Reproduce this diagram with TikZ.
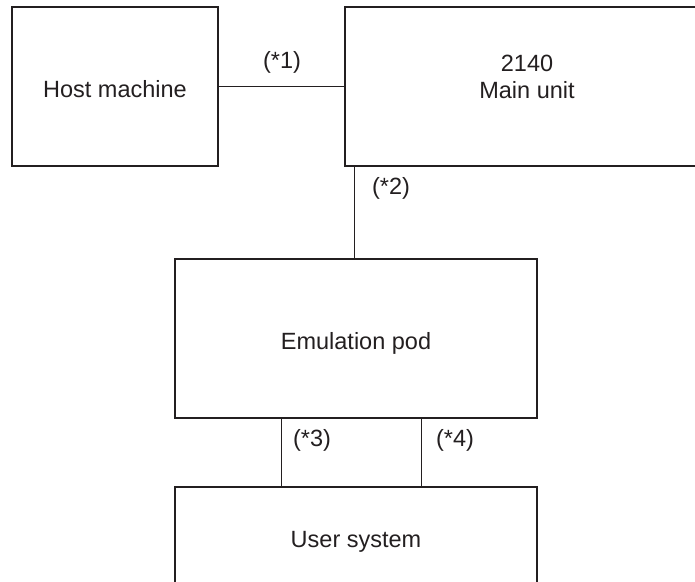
\documentclass[tikz,border=0pt]{standalone}
\usepackage{fontspec}
\setmainfont{Liberation Sans}
\definecolor{ink}{HTML}{231F20}
\begin{document}
\begin{tikzpicture}[x=1pt,y=-1pt,
  block/.style={draw=ink,line width=2.3pt,inner sep=0pt,text=ink,align=center,
    text height=26pt,text depth=5pt,font=\fontsize{23.5}{27}\selectfont},
  caption/.style={text=ink,inner sep=0pt,align=center,font=\fontsize{23.5}{27}\selectfont},
  wire/.style={draw=ink,line width=1.1pt},
  tag/.style={text=ink,inner sep=0pt,font=\fontsize{23.5}{27}\selectfont}]
\useasboundingbox (0,0) rectangle (695,581);
\clip (0,0) rectangle (695,581);
% units
\node[block,minimum width=206pt,minimum height=159pt] (host) at (115,86.5) {Host machine};
\node[block,minimum width=364pt,minimum height=159pt] (main) at (527,86.5) {};
\node[caption] (mainlbl) at ([yshift=10pt]main.center) {2140\\Main unit};
\node[block,minimum width=362pt,minimum height=159pt] (pod) at (356,338.5) {Emulation pod};
\node[block,minimum width=362pt,minimum height=100pt] (user) at (356,537) {User system};
% links
\draw[wire] (host.east) -- (main.west);
\draw[wire] ([xshift=11pt]main.south west) -- ([xshift=11pt]main.south west |- pod.north);
\draw[wire] ([xshift=108pt]pod.south west) -- ([xshift=108pt]pod.south west |- user.north);
\draw[wire] ([xshift=248pt]pod.south west) -- ([xshift=248pt]pod.south west |- user.north);
% link labels
\node[tag] (l1) at (282,62) {(*1)};
\node[tag] (l2) at (391,188) {(*2)};
\node[tag] (l3) at (312,440) {(*3)};
\node[tag] (l4) at (455,440) {(*4)};
\end{tikzpicture}
\end{document}
